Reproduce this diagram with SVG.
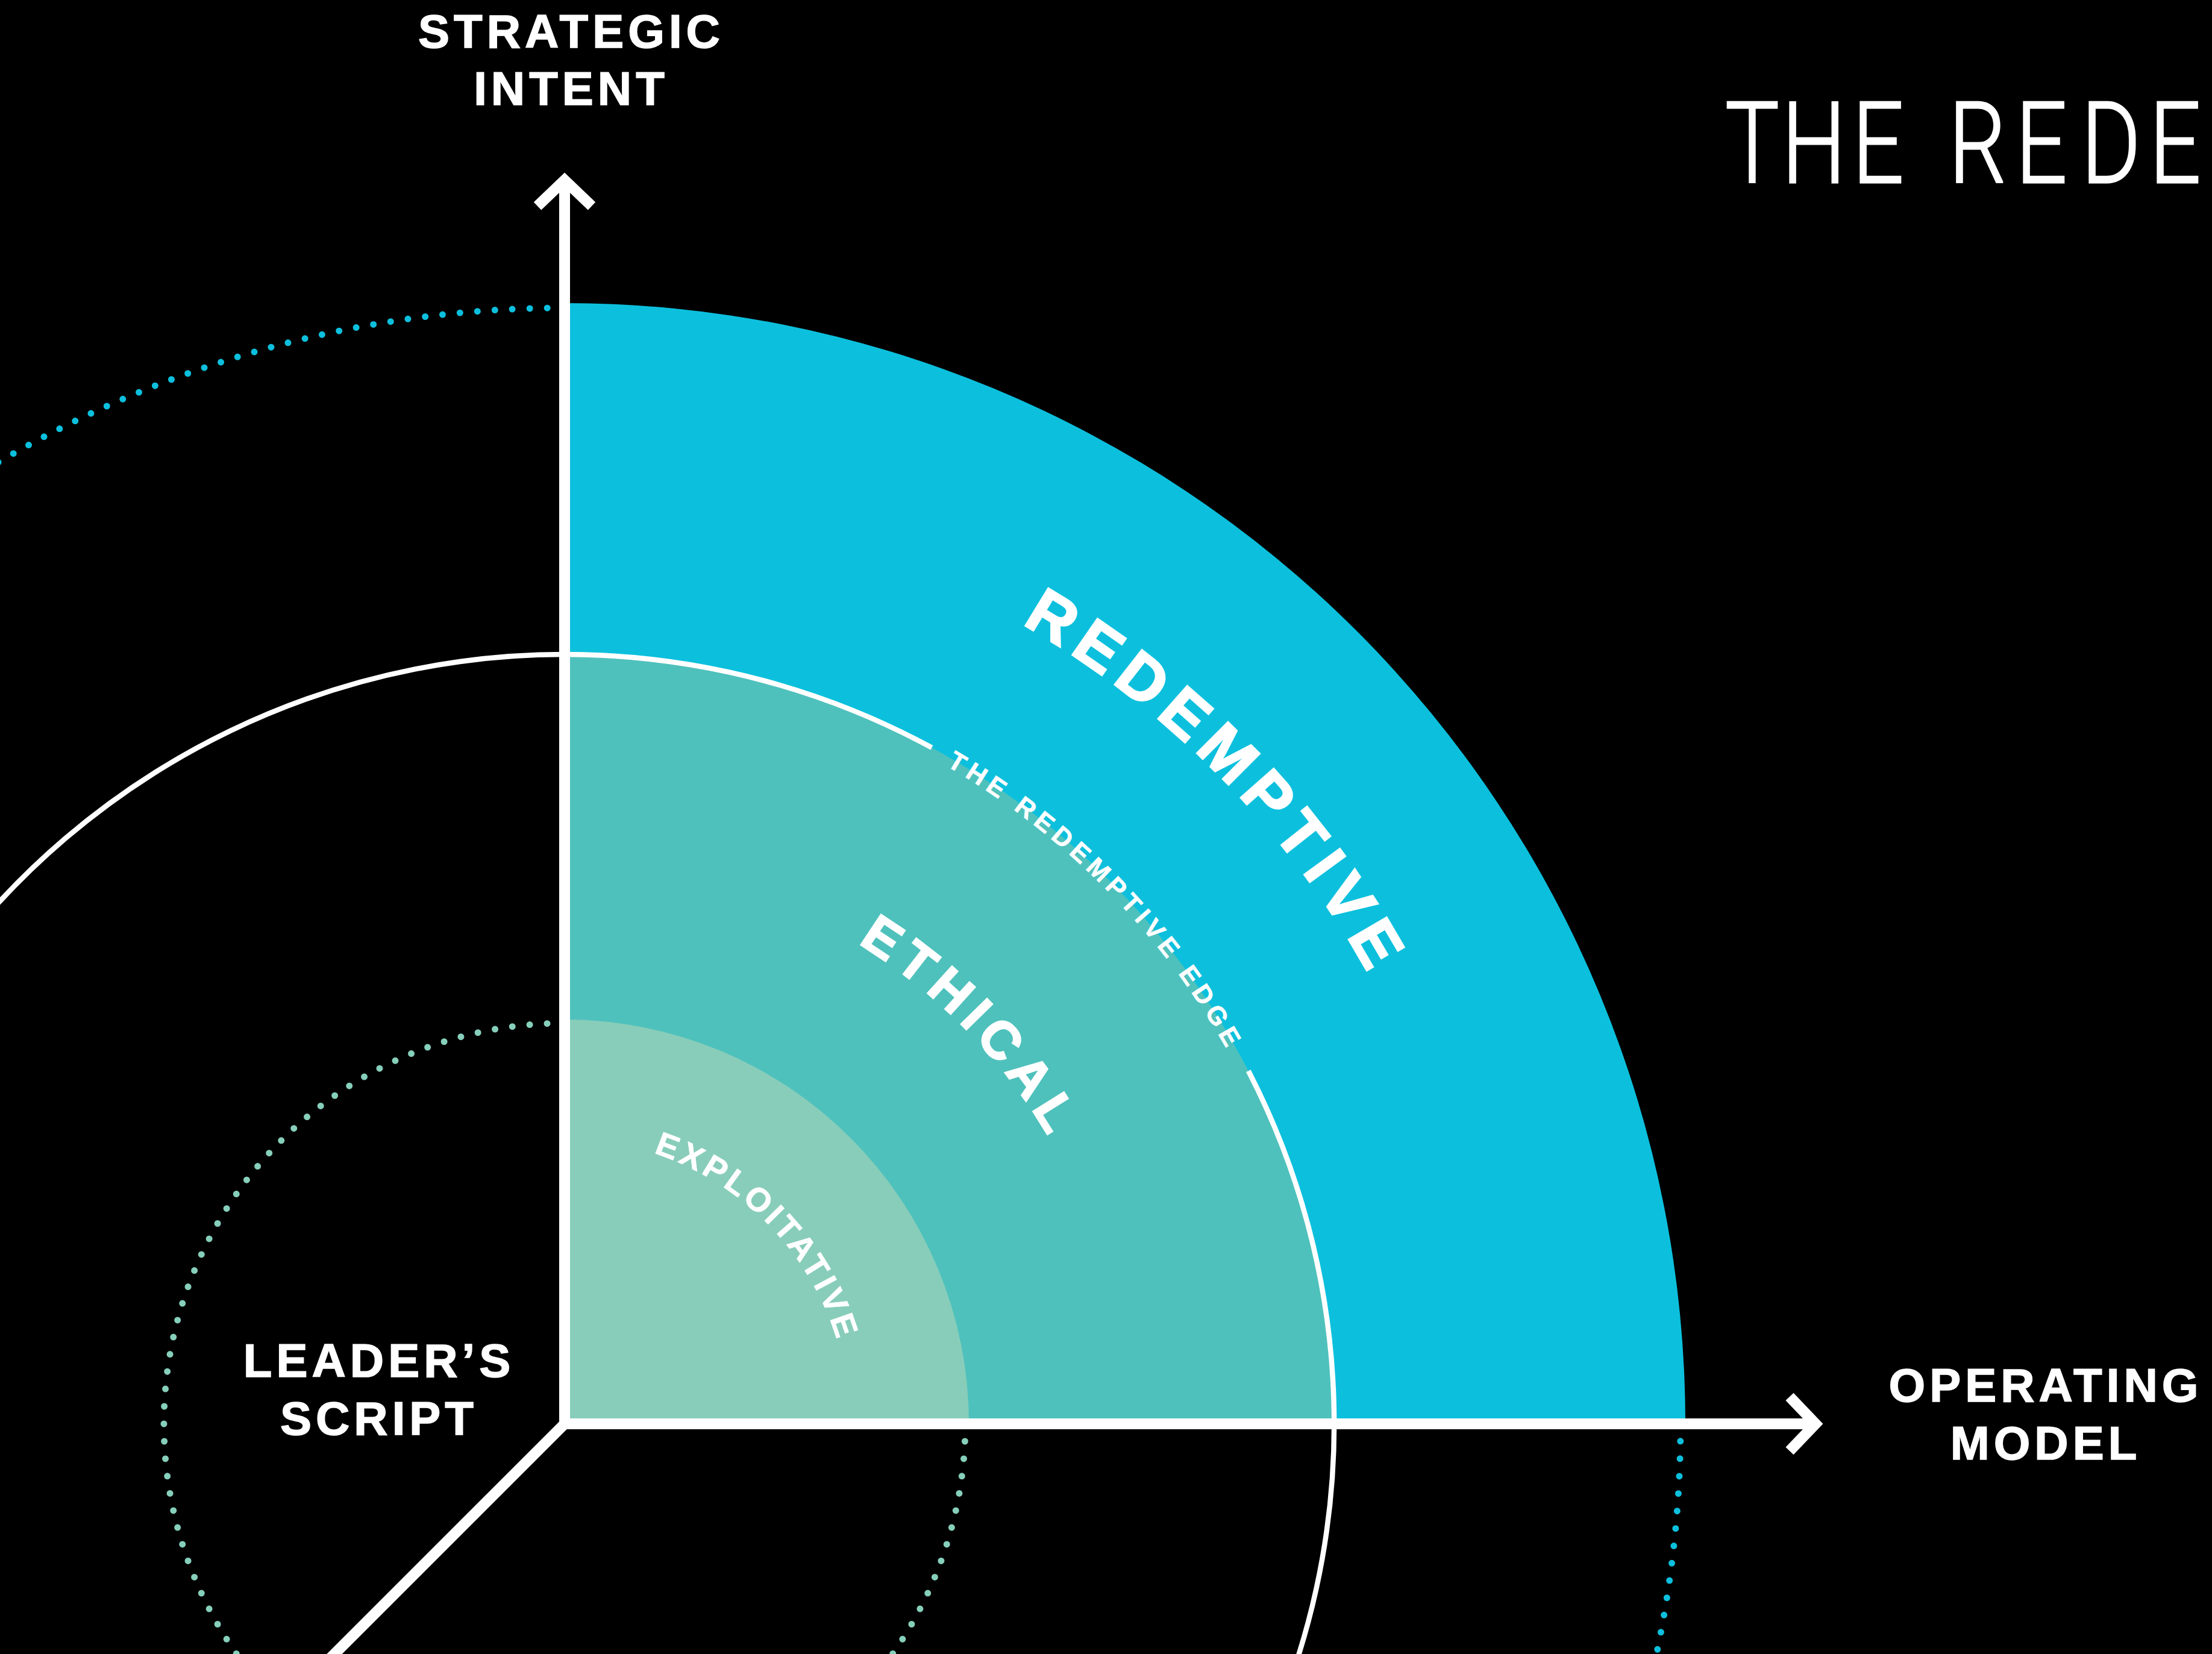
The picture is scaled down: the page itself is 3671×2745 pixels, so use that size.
<svg xmlns="http://www.w3.org/2000/svg" width="3671" height="2745" viewBox="0 0 3671 2745">
<style>
.lbl{font-family:"Liberation Sans",Arial,sans-serif;font-weight:700;font-size:78px;letter-spacing:7px;fill:#fff;stroke:#fff;stroke-width:1.5px;text-anchor:middle}
.arc{font-family:"Liberation Sans",Arial,sans-serif;font-weight:700;fill:#fff;stroke:#fff;text-anchor:middle}
.ax{fill:none;stroke:#fff;stroke-width:18;stroke-linejoin:miter;stroke-miterlimit:10}
.dot{fill:none;stroke-width:11;stroke-linecap:round;stroke-dasharray:0 1}
.title{font-family:Roboto,"Open Sans","Liberation Sans",sans-serif;font-weight:300;font-size:188px;fill:#fff;stroke:#fff;stroke-width:3px}
</style>
<defs>
<path id="pRed" d="M 937 834 A 1529 1529 0 0 1 2466 2363"/>
<path id="pEth" d="M 937 1429 A 934 934 0 0 1 1871 2363"/>
<path id="pExp" d="M 937 1890 A 473 473 0 0 1 1410 2363"/>
<path id="pEdge" d="M 937 1100.5 A 1262.5 1262.5 0 0 1 2199.5 2363"/>
</defs>
<rect x="0" y="0" width="3671" height="2745" fill="#000"/>

<g id="rings-dotted">
<path class="dot" stroke="#0CC0DD" pathLength="301" d="M 937 511 A 1852 1852 0 1 0 2789 2363"/>
<path class="dot" stroke="#86CFBB" pathLength="108" d="M 937 1698 A 665 665 0 1 0 1602 2363"/>
</g>

<g id="redemptive-zone">
<path fill="#0CC0DD" d="M 937 2363 L 937 503 A 1860 1860 0 0 1 2797 2363 Z"/>
</g>
<g id="ethical-zone">
<path fill="#4FC1BC" d="M 937 2363 L 937 1086 A 1277 1277 0 0 1 2214 2363 Z"/>
</g>
<g id="exploitative-zone">
<path fill="#88CDBA" d="M 937 2363 L 937 1692 A 671 671 0 0 1 1608 2363 Z"/>
</g>

<g id="redemptive-edge-ring">
<path fill="none" stroke="#fff" stroke-width="8.5" d="M 1546.4 1240.8 A 1277 1277 0 1 0 2071.8 1777.2"/>
</g>

<g id="connectors">
<path class="ax" d="M 937 300 L 937 2363 L 540 2760"/>
<path class="ax" d="M 928 2363 L 3012 2363"/>
<path class="ax" d="M 892 342 L 937 299 L 982 342"/>
<path class="ax" d="M 2970 2318 L 3013 2363 L 2970 2408"/>
</g>

<g id="label-strategic-intent">
<text class="lbl" x="948" y="79">STRATEGIC</text>
<text class="lbl" x="948" y="174">INTENT</text>
</g>
<g id="label-operating-model">
<text class="lbl" x="3395" y="2326">OPERATING</text>
<text class="lbl" x="3395" y="2422">MODEL</text>
</g>
<g id="label-leaders-script">
<text class="lbl" x="629" y="2285">LEADER’S</text>
<text class="lbl" x="629" y="2381">SCRIPT</text>
</g>

<g id="label-redemptive">
<text class="arc" font-size="106" stroke-width="3" letter-spacing="15.2"><textPath href="#pRed" startOffset="1214">REDEMPTIVE</textPath></text>
</g>
<g id="label-ethical">
<text class="arc" font-size="88" stroke-width="2.5" letter-spacing="12.1"><textPath href="#pEth" startOffset="744.5">ETHICAL</textPath></text>
</g>
<g id="label-exploitative">
<text class="arc" font-size="55" stroke-width="0.8" letter-spacing="5.6"><textPath href="#pExp" startOffset="378">EXPLOITATIVE</textPath></text>
</g>
<g id="label-redemptive-edge">
<text class="arc" font-size="43" stroke-width="0.6" letter-spacing="8.7"><textPath href="#pEdge" startOffset="1001.5">THE REDEMPTIVE EDGE</textPath></text>
</g>

<g id="title">
<text class="title" transform="scale(0.8,1)" y="303" x="3578.75 3696.25 3842.5 3950 4042.5 4181.25 4317.5 4458.75">THE REDE</text>
</g>
</svg>
